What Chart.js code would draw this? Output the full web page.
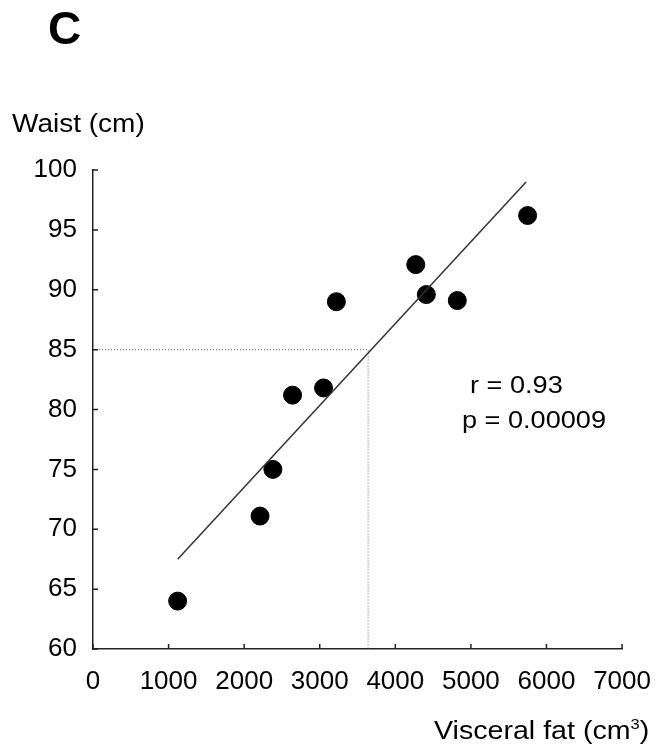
<!DOCTYPE html>
<html>
<head>
<meta charset="utf-8">
<script src="https://cdn.jsdelivr.net/npm/chart.js@4.4.1/dist/chart.umd.min.js"></script>
<style>
  body { margin: 0; background: #fff; }
  #wrap { position: relative; width: 668px; height: 751px; }
  canvas { position: absolute; left: 0; top: 0; }
  .txt { position: absolute; font-family: 'Liberation Sans', Arial, sans-serif; color: #000;
         line-height: 1; white-space: nowrap; transform-origin: 0 0; }
</style>
</head>
<body>
<div id="wrap">
  <canvas id="scatter_chart" width="668" height="751"></canvas>
  <div class="txt" style="left:48px; top:5px; font-size:46px; font-weight:bold;">C</div>
  <div class="txt" style="left:12px; top:111px; font-size:25px; transform:scaleX(1.12);">Waist (cm)</div>
  <div class="txt" style="left:434px; top:716px; font-size:26px; transform:scaleX(1.1);">Visceral fat (cm<sup style="font-size:15px;">3</sup>)</div>
  <div class="txt" style="left:470px; top:373px; font-size:24px; transform:scaleX(1.13);">r = 0.93</div>
  <div class="txt" style="left:462px; top:408px; font-size:24px; transform:scaleX(1.13);">p = 0.00009</div>
</div>
<script>
// visceral fat (cm3) vs waist (cm)
const visceralFat = [1120, 2210, 2380, 2640, 3050, 3220, 4270, 4410, 4820, 5750];
const waist = [64.0, 71.1, 75.0, 81.2, 81.8, 89.0, 92.1, 89.6, 89.1, 96.2];

// regression line ends
const fitX = [1120, 5730];
const fitY = [67.5, 99.0];

// dotted guide at waist 85
const guideX = [0, 3640, 3640];
const guideY = [85, 85, 60];

const xTicks = [0, 1000, 2000, 3000, 4000, 5000, 6000, 7000];
const yTicks = [60, 65, 70, 75, 80, 85, 90, 95, 100];

function toPoints(xs, ys){
    return xs.map(function(x, i){ return {x: x, y: ys[i]}; });
}

// ticks point into the plot
const innerTicks = {
    id: 'innerTicks',
    afterDraw: function(chart){
        const ctx = chart.ctx;
        const xs = chart.scales.x, ys = chart.scales.y;
        ctx.save();
        ctx.strokeStyle = '#222';
        ctx.lineWidth = 1.5;
        ctx.beginPath();
        xTicks.forEach(function(v){
            const px = xs.getPixelForValue(v);
            ctx.moveTo(px, xs.top);
            ctx.lineTo(px, xs.top - 5);
        });
        yTicks.forEach(function(v){
            const py = ys.getPixelForValue(v);
            ctx.moveTo(ys.right, py);
            ctx.lineTo(ys.right + 5, py);
        });
        ctx.stroke();
        ctx.restore();
    }
};

const font = {family: "'Liberation Sans', Arial, sans-serif", size: 26};

const ctx = document.getElementById('scatter_chart').getContext('2d');
const chart = new Chart(ctx, {
    type: 'scatter',
    data: {
        datasets: [{
            label: 'guide',
            type: 'line',
            data: toPoints(guideX, guideY),
            borderColor: '#666',
            borderWidth: 1,
            borderDash: [1, 2],
            pointRadius: 0,
            fill: false
        }, {
            label: 'fit',
            type: 'line',
            data: toPoints(fitX, fitY),
            borderColor: '#333',
            borderWidth: 1.5,
            pointRadius: 0,
            fill: false
        }, {
            label: 'subjects',
            data: toPoints(visceralFat, waist),
            backgroundColor: '#000',
            borderColor: '#000',
            pointRadius: 9
        }]
    },
    options: {
        responsive: false,
        animation: false,
        layout: {padding: {top: 170, right: 45, left: 0, bottom: 0}},
        plugins: {legend: {display: false}, tooltip: {enabled: false}},
        scales: {
            x: {
                type: 'linear',
                min: 0, max: 7000,
                afterFit: function(s){ s.height = 102; },
                afterBuildTicks: function(s){ s.ticks = xTicks.map(function(v){ return {value: v}; }); },
                grid: {display: true, drawOnChartArea: false, drawTicks: false},
                border: {color: '#222', width: 1.5},
                ticks: {
                    color: '#000', font: font, padding: 17, maxRotation: 0, autoSkip: false,
                    callback: function(v){ return String(v); }
                }
            },
            y: {
                min: 60, max: 100,
                afterFit: function(s){ s.width = 93; },
                afterBuildTicks: function(s){ s.ticks = yTicks.map(function(v){ return {value: v}; }); },
                grid: {display: true, drawOnChartArea: false, drawTicks: false},
                border: {color: '#222', width: 1.5},
                ticks: {
                    color: '#000', font: font, padding: 16, autoSkip: false,
                    callback: function(v){ return String(v); }
                }
            }
        }
    },
    plugins: [innerTicks]
});
</script>
</body>
</html>
